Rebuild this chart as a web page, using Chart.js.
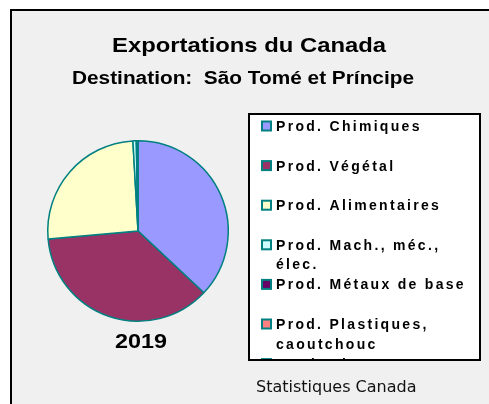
<!DOCTYPE html>
<html>
<head>
<meta charset="utf-8">
<script src="https://cdn.jsdelivr.net/npm/chart.js@4/dist/chart.umd.min.js"></script>
<style>
  html, body { margin: 0; padding: 0; background: #fff; }
  #wrap { width: 489px; height: 404px; position: relative; }
</style>
</head>
<body>
<div id="wrap"><canvas id="chart"></canvas></div>
<script>
// data
const categories = ['Prod. Chimiques', 'Prod. Végétal', 'Prod. Alimentaires',
  'Prod. Mach., méc., élec.', 'Prod. Métaux de base', 'Prod. Plastiques, caoutchouc', 'Prod. Divers'];
const shares2019 = [37.0, 36.6, 25.5, 0.6, 0.1, 0.1, 0.1];
const sliceColors = ['#9999ff', '#993366', '#ffffcc', '#ccffff', '#660066', '#ff8080', '#0066cc'];
const titleText = 'Exportations du Canada';
const subtitleText = 'Destination:  São Tomé et Príncipe';
const yearLabel = '2019';
const sourceText = 'Statistiques Canada';

const SANS = "'Liberation Sans', Arial, sans-serif";

function wrapText(ctx, text, maxW) {
  const words = text.split(' ');
  const lines = [];
  let cur = '';
  for (const w of words) {
    const test = cur ? cur + ' ' + w : w;
    if (cur && ctx.measureText(test).width > maxW) {
      lines.push(cur);
      cur = w;
    } else cur = test;
  }
  if (cur) lines.push(cur);
  return lines;
}

// draw text centred on cx, stretched to a given width
function fitText(ctx, text, cx, y, font, width) {
  ctx.save();
  ctx.font = font;
  ctx.textAlign = 'center';
  const w = ctx.measureText(text).width;
  ctx.translate(cx, y);
  ctx.scale(width / w, 1);
  ctx.fillText(text, 0, 0);
  ctx.restore();
}

const decor = {
  id: 'decor',
  beforeDraw(chart) {
    const ctx = chart.ctx;
    ctx.save();
    ctx.fillStyle = '#fff';
    ctx.fillRect(0, 0, 489, 404);
    ctx.fillStyle = '#f0f0f0';
    ctx.fillRect(10, 9, 479, 395);
    ctx.strokeStyle = '#000';
    ctx.lineWidth = 2;
    ctx.beginPath();
    ctx.moveTo(11, 404);
    ctx.lineTo(11, 10);
    ctx.lineTo(489, 10);
    ctx.stroke();
    ctx.restore();
  },
  afterDraw(chart) {
    const ctx = chart.ctx;
    ctx.save();
    ctx.fillStyle = '#000';
    ctx.textBaseline = 'alphabetic';
    fitText(ctx, titleText, 249, 52, 'bold 21px ' + SANS, 274);
    fitText(ctx, subtitleText, 243, 84, 'bold 18px ' + SANS, 342);
    fitText(ctx, yearLabel, 141, 348, 'bold 21px ' + SANS, 52);
    ctx.font = "16px 'DejaVu Sans', sans-serif";
    ctx.textAlign = 'left';
    ctx.fillStyle = '#111';
    ctx.fillText(sourceText, 256, 392);

    // legend box
    const bx = 249, by = 114, bw = 231, bh = 246;
    ctx.fillStyle = '#fff';
    ctx.fillRect(bx, by, bw, bh);
    ctx.save();
    ctx.beginPath();
    ctx.rect(bx, by, bw, bh);
    ctx.clip();
    ctx.font = 'bold 14px ' + SANS;
    if ('letterSpacing' in ctx) ctx.letterSpacing = '2.3px';
    let base = 131;
    categories.forEach((name, i) => {
      ctx.fillStyle = sliceColors[i];
      ctx.fillRect(262, base - 9.5, 9, 9);
      ctx.strokeStyle = '#008080';
      ctx.lineWidth = 2;
      ctx.strokeRect(262, base - 9.5, 9, 9);
      ctx.fillStyle = '#000';
      const lines = wrapText(ctx, name, 200);
      lines.forEach((ln, k) => ctx.fillText(ln, 276, base + k * 19.5));
      base += 39.6;
    });
    ctx.restore();
    ctx.strokeStyle = '#000';
    ctx.lineWidth = 2;
    ctx.strokeRect(bx, by, bw, bh);
    ctx.restore();
  }
};

new Chart(document.getElementById('chart'), {
  type: 'pie',
  data: {
    labels: categories,
    datasets: [{
      data: shares2019,
      backgroundColor: sliceColors,
      borderColor: '#008080',
      borderWidth: 1.5
    }]
  },
  options: {
    responsive: true,
    maintainAspectRatio: false,
    animation: false,
    layout: { padding: { left: 47, top: 140, right: 260, bottom: 82 } },
    plugins: { legend: { display: false }, tooltip: { enabled: false } }
  },
  plugins: [decor]
});
</script>
</body>
</html>
